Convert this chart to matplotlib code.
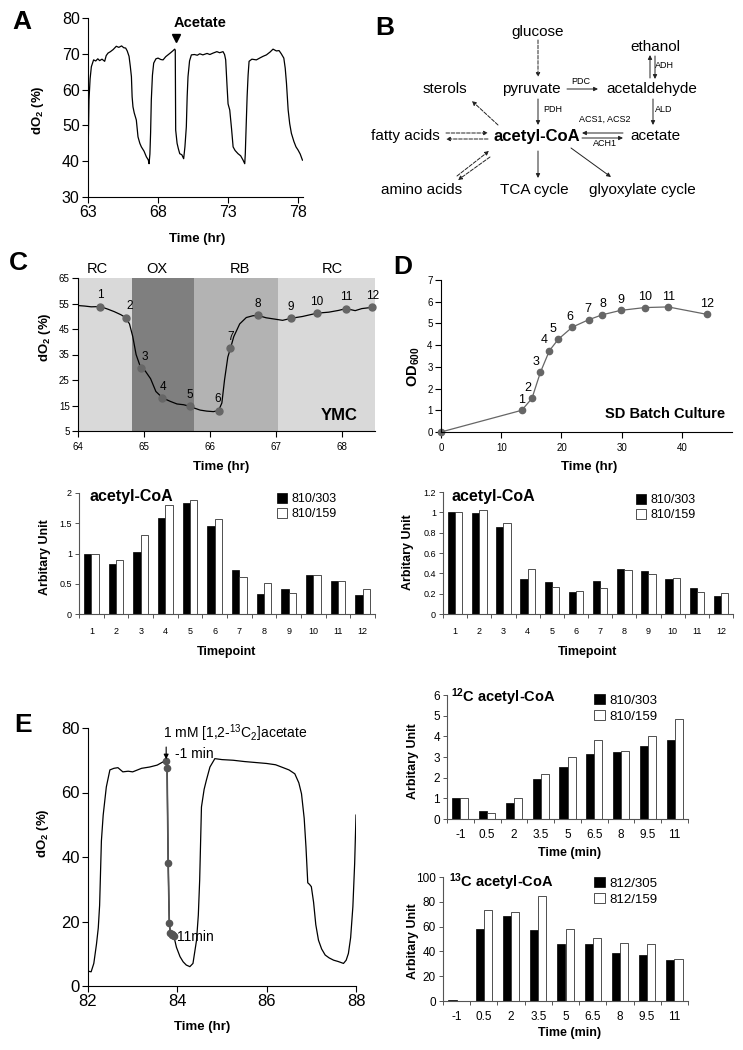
import numpy as np
import matplotlib
matplotlib.use('Agg')
import matplotlib.pyplot as plt

plt.rcParams['font.family'] = ['Liberation Sans', 'DejaVu Sans']
plt.rcParams['mathtext.fontset'] = 'custom'
plt.rcParams['mathtext.rm'] = 'Liberation Sans'
plt.rcParams['mathtext.bf'] = 'Liberation Sans:bold'
plt.rcParams['mathtext.it'] = 'Liberation Sans:italic'

# ---------------- data ----------------
# A: dO2 trace, 63-78 hr
a_time = [63.0, 63.04, 63.07, 63.15, 63.24, 63.4, 63.55, 63.7, 63.83, 64.0, 64.19, 64.3, 64.43, 64.6, 64.8,
          65.02, 65.2, 65.4, 65.55, 65.69, 65.8, 65.93, 66.02, 66.1, 66.15, 66.21, 66.3, 66.45, 66.57, 66.7,
          66.81, 67.0, 67.17, 67.3, 67.36, 67.42, 67.47, 67.52, 67.6, 67.69, 67.85, 68.0, 68.2, 68.36, 68.55,
          68.71, 68.9, 69.05, 69.19, 69.23, 69.26, 69.36, 69.45, 69.55, 69.7, 69.83, 69.92, 70.02, 70.08,
          70.14, 70.25, 70.38, 70.6, 70.8, 70.98, 71.2, 71.5, 71.7, 71.93, 72.2, 72.4, 72.64, 72.75, 72.83,
          72.93, 73.0, 73.12, 73.25, 73.36, 73.5, 73.71, 73.9, 74.07, 74.19, 74.23, 74.26, 74.31, 74.36,
          74.43, 74.5, 74.7, 75.02, 75.3, 75.5, 75.74, 76.0, 76.21, 76.45, 76.64, 76.8, 76.98, 77.08, 77.17,
          77.29, 77.4, 77.52, 77.7, 77.85, 78.0, 78.15, 78.31]
a_do2 = [40.3, 50, 57.1, 63, 66.4, 68.3, 68.0, 68.6, 68.1, 68.5, 67.9, 69.5, 70.2, 70.6, 71.2,
         72.1, 71.8, 72.2, 71.7, 71.6, 70.8, 69.3, 66.5, 63.6, 58, 55.2, 53.5, 51.5, 46.8, 45,
         44, 42.8, 41.2, 40.4, 39.3, 42, 48, 57.1, 64, 67.4, 68.6, 68.8, 68.4, 68.3, 69.2,
         69.7, 70.3, 70.8, 71.3, 71.0, 48.7, 45, 43.5, 42.1, 41.8, 40.7, 44, 49.6, 58,
         63.6, 68, 69.7, 69.8, 69.6, 70, 69.7, 70.1, 69.8, 70.2, 70.6, 70.3, 70.6, 69.8, 68.3,
         60.8, 56, 54.3, 49, 44, 43, 42.1, 41.5, 40.3, 39.3, 42, 45.9, 52, 58,
         64, 67.9, 68.5, 68.3, 68.9, 69.3, 69.7, 70.5, 71.3, 70.8, 70.9, 70.0, 68.8, 66, 61.8,
         54.3, 50.5, 47.8, 45.5, 44, 43.1, 42, 40.3]
acetate_time = 69.25

# C: YMC dO2 trace and sampling points
c_time = [64.0, 64.1, 64.2, 64.34, 64.45, 64.55, 64.65, 64.72, 64.78, 64.83, 64.88, 64.95, 65.02, 65.1,
          65.18, 65.28, 65.4, 65.5, 65.6, 65.69, 65.75, 65.85, 65.95, 66.05, 66.13, 66.18, 66.22, 66.27,
          66.31, 66.36, 66.45, 66.55, 66.65, 66.73, 66.85, 67.0, 67.1, 67.23, 67.4, 67.62, 67.8, 67.95,
          68.06, 68.2, 68.3, 68.46]
c_do2 = [54.2, 54.0, 53.7, 53.8, 52.8, 51.8, 50.6, 49.5, 47, 42, 35, 29.8, 28.5, 25.5,
         20.5, 18.0, 16.6, 15.6, 15.3, 14.7, 14.1, 13.2, 12.8, 12.6, 13.0, 16, 25, 34,
         37.4, 42, 47, 49.5, 50.2, 50.3, 49.4, 48.8, 48.4, 49.2, 49.9, 51.2, 51.6, 52.3,
         53.0, 52.2, 53.0, 53.5]
c_pt_time = [64.34, 64.72, 64.95, 65.28, 65.69, 66.13, 66.31, 66.73, 67.23, 67.62, 68.06, 68.46]
c_pt_do2 = [53.8, 49.5, 29.8, 18.0, 14.7, 13.0, 37.4, 50.3, 49.2, 51.2, 53.0, 53.5]
c_phase_edges = [64.0, 64.82, 65.76, 67.03, 68.5]
c_phase_names = ['RC', 'OX', 'RB', 'RC']
c_phase_colors = ['#d9d9d9', '#7f7f7f', '#b3b3b3', '#d9d9d9']
c_phase_label_x = [64.3, 65.2, 66.45, 67.85]

# D: SD batch culture growth
d_time = [0, 13.4, 15.1, 16.5, 18.0, 19.5, 21.8, 24.5, 26.8, 29.8, 33.8, 37.7, 44.1]
d_od = [0, 1.0, 1.55, 2.75, 3.75, 4.28, 4.83, 5.17, 5.4, 5.6, 5.73, 5.76, 5.42]

# acetyl-CoA bar charts
timepoints = [str(i) for i in range(1, 13)]
c_303 = [1.0, 0.82, 1.03, 1.59, 1.84, 1.46, 0.73, 0.33, 0.42, 0.65, 0.54, 0.32]
c_159 = [1.0, 0.90, 1.30, 1.80, 1.88, 1.57, 0.61, 0.51, 0.35, 0.65, 0.54, 0.42]
d_303 = [1.0, 0.99, 0.86, 0.34, 0.31, 0.22, 0.32, 0.44, 0.42, 0.34, 0.26, 0.18]
d_159 = [1.0, 1.02, 0.90, 0.44, 0.27, 0.23, 0.26, 0.43, 0.39, 0.35, 0.22, 0.21]

# E: labelling experiment
e_time = [82.0, 82.07, 82.13, 82.19, 82.23, 82.26, 82.3, 82.34, 82.41, 82.49, 82.58, 82.67, 82.78, 82.9,
          83.0, 83.2, 83.38, 83.55, 83.72, 83.75, 83.77, 83.795, 83.82, 83.845, 83.87, 83.9, 83.92, 83.98,
          84.06, 84.13, 84.2, 84.28, 84.35, 84.43, 84.47, 84.5, 84.54, 84.6, 84.65, 84.73, 84.84, 85.0,
          85.25, 85.5, 85.75, 86.0, 86.2, 86.37, 86.5, 86.63, 86.72, 86.78, 86.84, 86.88, 86.92, 86.96,
          87.0, 87.05, 87.1, 87.16, 87.23, 87.31, 87.4, 87.5, 87.6, 87.72, 87.78, 87.83, 87.88, 87.93,
          87.97, 88.0]
e_do2 = [4.6, 4.4, 7, 13, 18, 25, 45, 53, 61.7, 67, 67.5, 67.7, 66.4, 66.6,
         66.4, 67.5, 67.9, 68.5, 69.8, 69.8, 67.7, 38.2, 19.6, 16.3, 16.0, 15.8, 15.6, 12,
         9.1, 7.5, 6.5, 6.0, 7.0, 14.2, 22, 32.8, 55.5, 61, 63.8, 67.9, 70.5, 70.2,
         70.0, 69.6, 69.3, 69.0, 68.6, 67.7, 67.0, 65.8, 63, 59.6, 52, 43.1, 32, 31.5,
         30.8, 26, 19, 14.2, 11.5, 9.6, 8.7, 8.0, 7.6, 7.0, 8.0, 10.1, 15, 24.6,
         38, 53]
e_add_time = 83.75
e_samp_time = [83.75, 83.77, 83.795, 83.82, 83.845, 83.87, 83.89, 83.905, 83.92]
e_samp_do2 = [69.8, 67.7, 38.2, 19.6, 16.3, 16.0, 15.8, 15.7, 15.6]

minutes = ['-1', '0.5', '2', '3.5', '5', '6.5', '8', '9.5', '11']
c12_303 = [1.0, 0.37, 0.77, 1.95, 2.5, 3.15, 3.25, 3.55, 3.8]
c12_159 = [1.0, 0.27, 1.03, 2.17, 3.02, 3.8, 3.27, 4.0, 4.85]
c13_305 = [0.6, 57.8, 68.3, 57.0, 46.2, 45.7, 38.4, 36.8, 33.0]
c13_159 = [0.4, 73.7, 71.8, 84.9, 57.8, 51.0, 46.7, 45.7, 33.6]

# ---------------- layout helpers ----------------
W, H = 743, 1050


def box(l, t, r, b):
    return [l / W, 1 - b / H, (r - l) / W, (b - t) / H]


def fp(x, y):
    return (x / W, 1 - y / H)


fig = plt.figure(figsize=(7.43, 10.5), dpi=100)
BOLD2 = r'$_\mathbf{2}$'


def style_line_ax(ax, fs, spine='black'):
    for s in ['top', 'right']:
        ax.spines[s].set_visible(False)
    for s in ['left', 'bottom']:
        ax.spines[s].set_color(spine)
        ax.spines[s].set_linewidth(0.8)
    ax.tick_params(direction='out', length=4, width=0.8, labelsize=fs, pad=2, color=spine)


def set_labels(ax, xl, xpos, yl, ypos, xfs, yfs):
    ax.set_xlabel(xl, fontsize=xfs, fontweight='bold')
    ax.xaxis.set_label_coords(*fp(*xpos), transform=fig.transFigure)
    ax.set_ylabel(yl, fontsize=yfs, fontweight='bold')
    ax.yaxis.set_label_coords(*fp(*ypos), transform=fig.transFigure)
    ax.xaxis.label.set_va('center')
    ax.yaxis.label.set_va('center')


# ---------------- A ----------------
axA = fig.add_axes(box(88, 18, 303, 197))
axA.plot(a_time, a_do2, color='black', lw=0.9)
axA.set_xlim(63, 78.35)
axA.set_ylim(30, 80)
axA.set_xticks([63, 68, 73, 78])
axA.set_yticks([30, 40, 50, 60, 70, 80])
style_line_ax(axA, 11.5)
axA.plot([acetate_time], [74.4], marker='v', color='black', ms=6, clip_on=False)
axA.text(acetate_time + 1.75, 78.6, 'Acetate', ha='center', va='center', fontsize=10.5, fontweight='bold')
set_labels(axA, 'Time (hr)', (197, 239), 'dO' + BOLD2 + ' (%)', (38, 110), 9.5, 9.5)

# ---------------- C (line) ----------------
axC = fig.add_axes(box(78, 278, 375, 431))
for i, name in enumerate(c_phase_names):
    axC.axvspan(c_phase_edges[i], c_phase_edges[i + 1], color=c_phase_colors[i], lw=0, zorder=0)
    axC.text(c_phase_label_x[i], 1.06, name, transform=axC.get_xaxis_transform(),
             ha='center', va='center', fontsize=10.5)
axC.plot(c_time, c_do2, color='black', lw=0.9, zorder=2)
axC.plot(c_pt_time, c_pt_do2, ls='none', marker='o', ms=5, color='#666666', zorder=3, clip_on=False)
c_dx = [0, 3, 3, 0.5, 0, -1, 0, 0, 0, 0, 0, 0]
for i, (t, v) in enumerate(zip(c_pt_time, c_pt_do2)):
    axC.annotate(timepoints[i], (t, v), xytext=(c_dx[i], 8), textcoords='offset points',
                 ha='center', va='center', fontsize=8.5)
axC.set_xlim(64, 68.5)
axC.set_ylim(5, 65)
axC.set_xticks([64, 65, 66, 67, 68])
axC.set_yticks([5, 15, 25, 35, 45, 55, 65])
style_line_ax(axC, 7)
axC.tick_params(axis='x', pad=4)
axC.text(0.88, 0.1, 'YMC', transform=axC.transAxes, ha='center', va='center', fontsize=12, fontweight='bold')
set_labels(axC, 'Time (hr)', (221, 467), 'dO' + BOLD2 + ' (%)', (45, 337), 9.5, 9.5)

# ---------------- D (line) ----------------
axD = fig.add_axes(box(441, 280, 732, 432))
axD.plot(d_time, d_od, color='#666666', lw=0.9, marker='o', ms=4.5, clip_on=False)
d_dx = [0, -3, -3.5, -3.5, -4, -2, -0.5, 0, 0, 0, 0, 0]
for i, (t, v) in enumerate(zip(d_time[1:], d_od[1:])):
    axD.annotate(timepoints[i], (t, v), xytext=(d_dx[i], 7.5), textcoords='offset points',
                 ha='center', va='center', fontsize=9)
axD.set_xlim(0, 48.3)
axD.set_ylim(0, 7)
axD.set_xticks([0, 10, 20, 30, 40])
axD.set_yticks(range(0, 8))
style_line_ax(axD, 7)
axD.tick_params(axis='x', pad=4)
axD.text(0.77, 0.12, 'SD Batch Culture', transform=axD.transAxes, ha='center', va='center',
         fontsize=10.5, fontweight='bold')
set_labels(axD, 'Time (hr)', (589, 467), r'OD$_\mathbf{600}$', (414, 367), 9.5, 10.5)


# ---------------- bar charts ----------------
def bar_panel(rect, cats, s1, s2, names, yticks, tfs, xpad, title, title_px, titfs, leg_px, lfs,
              xl, xl_px, yl_px):
    ax = fig.add_axes(rect)
    x = np.arange(len(cats))
    w = 0.3
    ax.bar(x - w / 2, s1, w, color='black', edgecolor='black', lw=0.5, label=names[0])
    ax.bar(x + w / 2, s2, w, color='white', edgecolor='#333333', lw=0.6, label=names[1])
    ax.set_xlim(-0.5, len(cats) - 0.5)
    ax.set_ylim(yticks[0], yticks[-1])
    ax.set_yticks(yticks)
    ax.set_yticklabels(['%g' % v for v in yticks])
    ax.set_xticks(np.arange(len(cats) + 1) - 0.5)
    ax.set_xticklabels([])
    ax.set_xticks(x, minor=True)
    ax.set_xticklabels(cats, minor=True)
    for s in ['top', 'right']:
        ax.spines[s].set_visible(False)
    for s in ['left', 'bottom']:
        ax.spines[s].set_color('#555555')
        ax.spines[s].set_linewidth(0.8)
    ax.tick_params(which='major', direction='out', length=3, width=0.7, color='#555555', labelsize=tfs, pad=2)
    ax.tick_params(which='minor', length=0, labelsize=tfs, pad=xpad)
    fig.text(*fp(*title_px), title, ha='left', va='center', fontsize=titfs, fontweight='bold')
    ax.legend(loc='upper left', bbox_to_anchor=fp(*leg_px), bbox_transform=fig.transFigure,
              frameon=False, fontsize=lfs, handlelength=0.8, handleheight=0.8, handletextpad=0.35,
              labelspacing=0.25, borderpad=0, borderaxespad=0)
    set_labels(ax, xl, xl_px, 'Arbitary Unit', yl_px, 9, 9)
    return ax


bar_panel(box(79, 493, 375, 614), timepoints, c_303, c_159, ['810/303', '810/159'],
          [0, 0.5, 1, 1.5, 2], 6.5, 9, 'acetyl-CoA', (89, 497), 11.5, (277, 493), 9,
          'Timepoint', (227, 652), (45, 557))
bar_panel(box(443, 492, 733, 614), timepoints, d_303, d_159, ['810/303', '810/159'],
          [0, 0.2, 0.4, 0.6, 0.8, 1.0, 1.2], 6.5, 9, 'acetyl-CoA', (452, 497), 11.5, (636, 494), 9,
          'Timepoint', (588, 652), (408, 552))
bar_panel(box(447, 695, 688, 819), minutes, c12_303, c12_159, ['810/303', '810/159'],
          [0, 1, 2, 3, 4, 5, 6], 8.5, 7, r'$^\mathbf{12}$C acetyl-CoA', (451, 697), 10.5, (594, 694), 9.5,
          'Time (min)', (570, 853), (413, 761))
bar_panel(box(443, 877, 688, 1001), minutes, c13_305, c13_159, ['812/305', '812/159'],
          [0, 20, 40, 60, 80, 100], 8.5, 7, r'$^\mathbf{13}$C acetyl-CoA', (449, 882), 10.5, (594, 877), 9.5,
          'Time (min)', (570, 1033), (413, 941))

# ---------------- E (line) ----------------
axE = fig.add_axes(box(88, 728, 356, 986))
axE.plot(e_time, e_do2, color='black', lw=0.9)
axE.plot(e_samp_time, e_samp_do2, color='#555555', lw=1.2, marker='o', ms=4.5)
axE.set_xlim(82, 88)
axE.set_ylim(0, 80)
axE.set_xticks([82, 84, 86, 88])
axE.set_yticks([0, 20, 40, 60, 80])
style_line_ax(axE, 12)
axE.annotate('', xy=(e_add_time, e_samp_do2[0] + 0.5), xytext=(e_add_time, e_samp_do2[0] + 4.3),
             arrowprops=dict(arrowstyle='-|>', color='black', lw=0.8, mutation_scale=7, shrinkA=0, shrinkB=0))
axE.text(e_add_time - 0.08, 78.5, r'1 mM [1,2-$^{13}$C$_2$]acetate', ha='left', va='center', fontsize=10)
axE.text(e_add_time + 0.19, e_samp_do2[0] + 2.2, '-1 min', ha='left', va='center', fontsize=10)
axE.text(e_samp_time[-1] + 0.07, e_samp_do2[-1] - 0.5, '11min', ha='left', va='center', fontsize=10)
set_labels(axE, 'Time (hr)', (202, 1027), 'dO' + BOLD2 + ' (%)', (43, 833), 9.5, 9.5)

# ---------------- B (pathway diagram) + panel letters ----------------
ov = fig.add_axes([0, 0, 1, 1])
ov.set_xlim(0, W)
ov.set_ylim(H, 0)
ov.axis('off')

for letter, (lx, ly) in zip('ABCDE', [(22, 22), (385, 28), (18, 263), (403, 267), (23, 725)]):
    ov.text(lx, ly, letter, ha='center', va='center', fontsize=19, fontweight='bold')

nodes = [('glucose', 538, 32), ('ethanol', 655, 47), ('sterols', 445, 89), ('pyruvate', 531, 89),
         ('acetaldehyde', 652, 89), ('acetate', 655, 136), ('amino acids', 422, 190),
         ('TCA cycle', 534, 190), ('glyoxylate cycle', 642, 190)]
for name, x, y in nodes:
    ov.text(x, y, name, ha='center', va='center', fontsize=11)
ov.text(440, 136, 'fatty acids', ha='right', va='center', fontsize=11)
ov.text(537, 136, 'acetyl-CoA', ha='center', va='center', fontsize=12, fontweight='bold')
enzymes = [('PDC', 581, 82), ('PDH', 553, 110), ('ALD', 664, 110), ('ADH', 664, 66),
           ('ACS1, ACS2', 605, 119), ('ACH1', 605, 144)]
for name, x, y in enzymes:
    ov.text(x, y, name, ha='center', va='center', fontsize=6.5)


def arrow(x0, y0, x1, y1, ls='-'):
    ov.annotate('', xy=(x1, y1), xytext=(x0, y0),
                arrowprops=dict(arrowstyle='-|>', color='#222222', lw=0.7, ls=ls,
                                mutation_scale=6, shrinkA=0, shrinkB=0))


arrow(538, 40, 538, 77, '--')
arrow(567, 89, 598, 89)
arrow(538, 99, 538, 125)
arrow(653, 99, 653, 125)
arrow(650, 78, 650, 55)
arrow(655, 56, 655, 79)
arrow(498, 125, 472, 101, '--')
arrow(446, 133, 488, 133, '--')
arrow(488, 139, 446, 139, '--')
arrow(623, 133, 582, 133)
arrow(582, 138, 623, 138)
arrow(457, 176, 489, 151, '--')
arrow(490, 157, 458, 180, '--')
arrow(538, 151, 538, 178)
arrow(571, 148, 611, 177)

fig.savefig('out.png', dpi=100)
